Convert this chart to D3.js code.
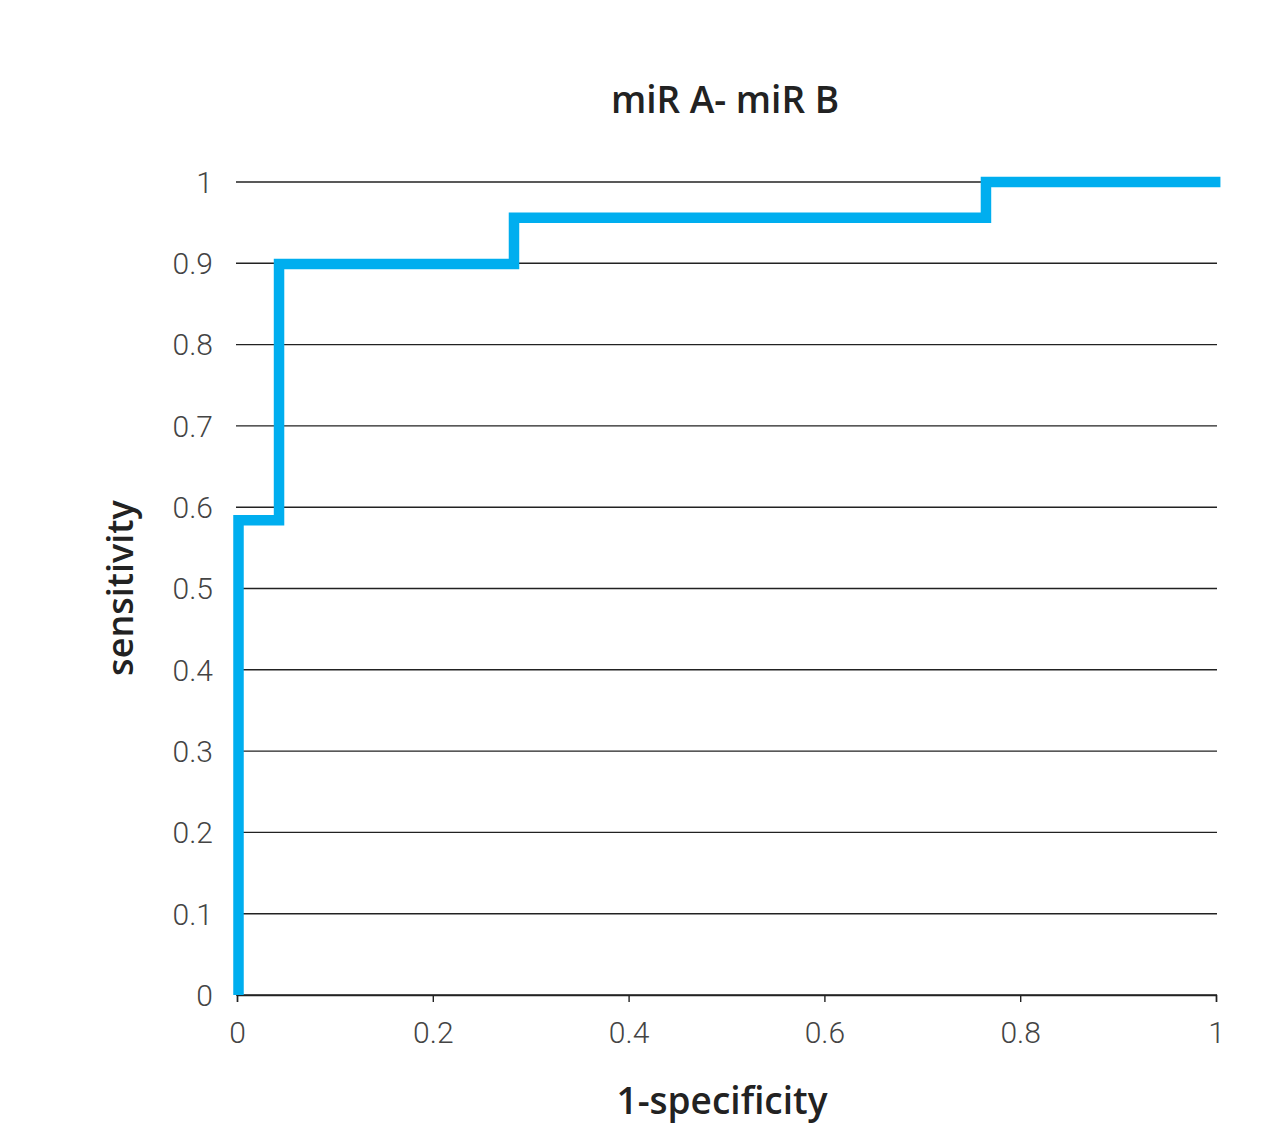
<!DOCTYPE html>
<html>
<head>
<meta charset="utf-8">
<script src="https://cdn.jsdelivr.net/npm/d3@7"></script>
<style>
  body { margin: 0; background: #fff; }
  svg { display: block; }
</style>
</head>
<body>
<svg id="chart"></svg>
<script>
// ROC step points (1-specificity, sensitivity)
var fpr = [0, 0, 0.0414, 0.0414, 0.2814, 0.2814, 0.7635, 0.7635, 1.003];
var tpr = [0, 0.584, 0.584, 0.899, 0.899, 0.956, 0.956, 1, 1];
var yTicks = [0, 0.1, 0.2, 0.3, 0.4, 0.5, 0.6, 0.7, 0.8, 0.9, 1];
var xTicks = [0, 0.2, 0.4, 0.6, 0.8, 1];

var width = 1286, height = 1127;
var margin = {top: 182, right: 70, bottom: 132, left: 237};

var svg = d3.select("#chart")
  .attr("width", width)
  .attr("height", height);

var x = d3.scaleLinear().domain([0, 1]).range([margin.left, 1216]);
var y = d3.scaleLinear().domain([0, 1]).range([995, margin.top]);

// horizontal gridlines
svg.append("g")
  .selectAll("line")
  .data(yTicks)
  .enter().append("line")
    .attr("x1", x(0) - 1)
    .attr("x2", x(1) + 1)
    .attr("y1", function(d) { return y(d); })
    .attr("y2", function(d) { return y(d); })
    .attr("stroke", "#222")
    .attr("stroke-width", 1.4);

// y tick labels
svg.append("g")
  .selectAll("text")
  .data(yTicks)
  .enter().append("text")
    .attr("x", 213)
    .attr("y", function(d) { return y(d); })
    .attr("dy", "0.36em")
    .attr("text-anchor", "end")
    .attr("font-family", "Roboto")
    .attr("font-weight", 300)
    .attr("font-size", 30)
    .attr("fill", "#444")
    .text(function(d) { return d3.format("~g")(d); });

// x axis
var xAxis = svg.append("g")
  .attr("transform", "translate(0," + y(0) + ")")
  .call(d3.axisBottom(x).tickValues(xTicks).tickSize(7).tickPadding(20)
    .tickFormat(d3.format("~g")));
xAxis.select(".domain").attr("stroke", "#222").attr("stroke-width", 1.4);
xAxis.selectAll(".tick line").attr("stroke", "#222").attr("stroke-width", 1.4);
xAxis.selectAll(".tick text")
  .attr("font-family", "Roboto")
  .attr("font-weight", 300)
  .attr("font-size", 30)
  .attr("fill", "#444");

// ROC curve
var pts = fpr.map(function(d, i) { return [d, tpr[i]]; });
svg.append("path")
  .datum(pts)
  .attr("fill", "none")
  .attr("stroke", "#00aeef")
  .attr("stroke-width", 10.5)
  .attr("stroke-linejoin", "miter")
  .attr("d", d3.line()
    .x(function(d) { return x(d[0]) + 1.5; })
    .y(function(d) { return y(d[1]); }));

// title and axis labels
svg.append("text")
  .attr("x", 725)
  .attr("y", 113)
  .attr("text-anchor", "middle")
  .attr("font-family", "Open Sans")
  .attr("font-weight", 600)
  .attr("font-size", 37)
  .attr("fill", "#222")
  .text("miR A- miR B");

svg.append("text")
  .attr("x", 722)
  .attr("y", 1114)
  .attr("text-anchor", "middle")
  .attr("font-family", "Open Sans")
  .attr("font-weight", 600)
  .attr("font-size", 37)
  .attr("fill", "#222")
  .text("1-specificity");

svg.append("text")
  .attr("transform", "translate(133,588) rotate(-90)")
  .attr("text-anchor", "middle")
  .attr("font-family", "Open Sans")
  .attr("font-weight", 600)
  .attr("font-size", 36)
  .attr("fill", "#222")
  .text("sensitivity");
</script>
</body>
</html>
